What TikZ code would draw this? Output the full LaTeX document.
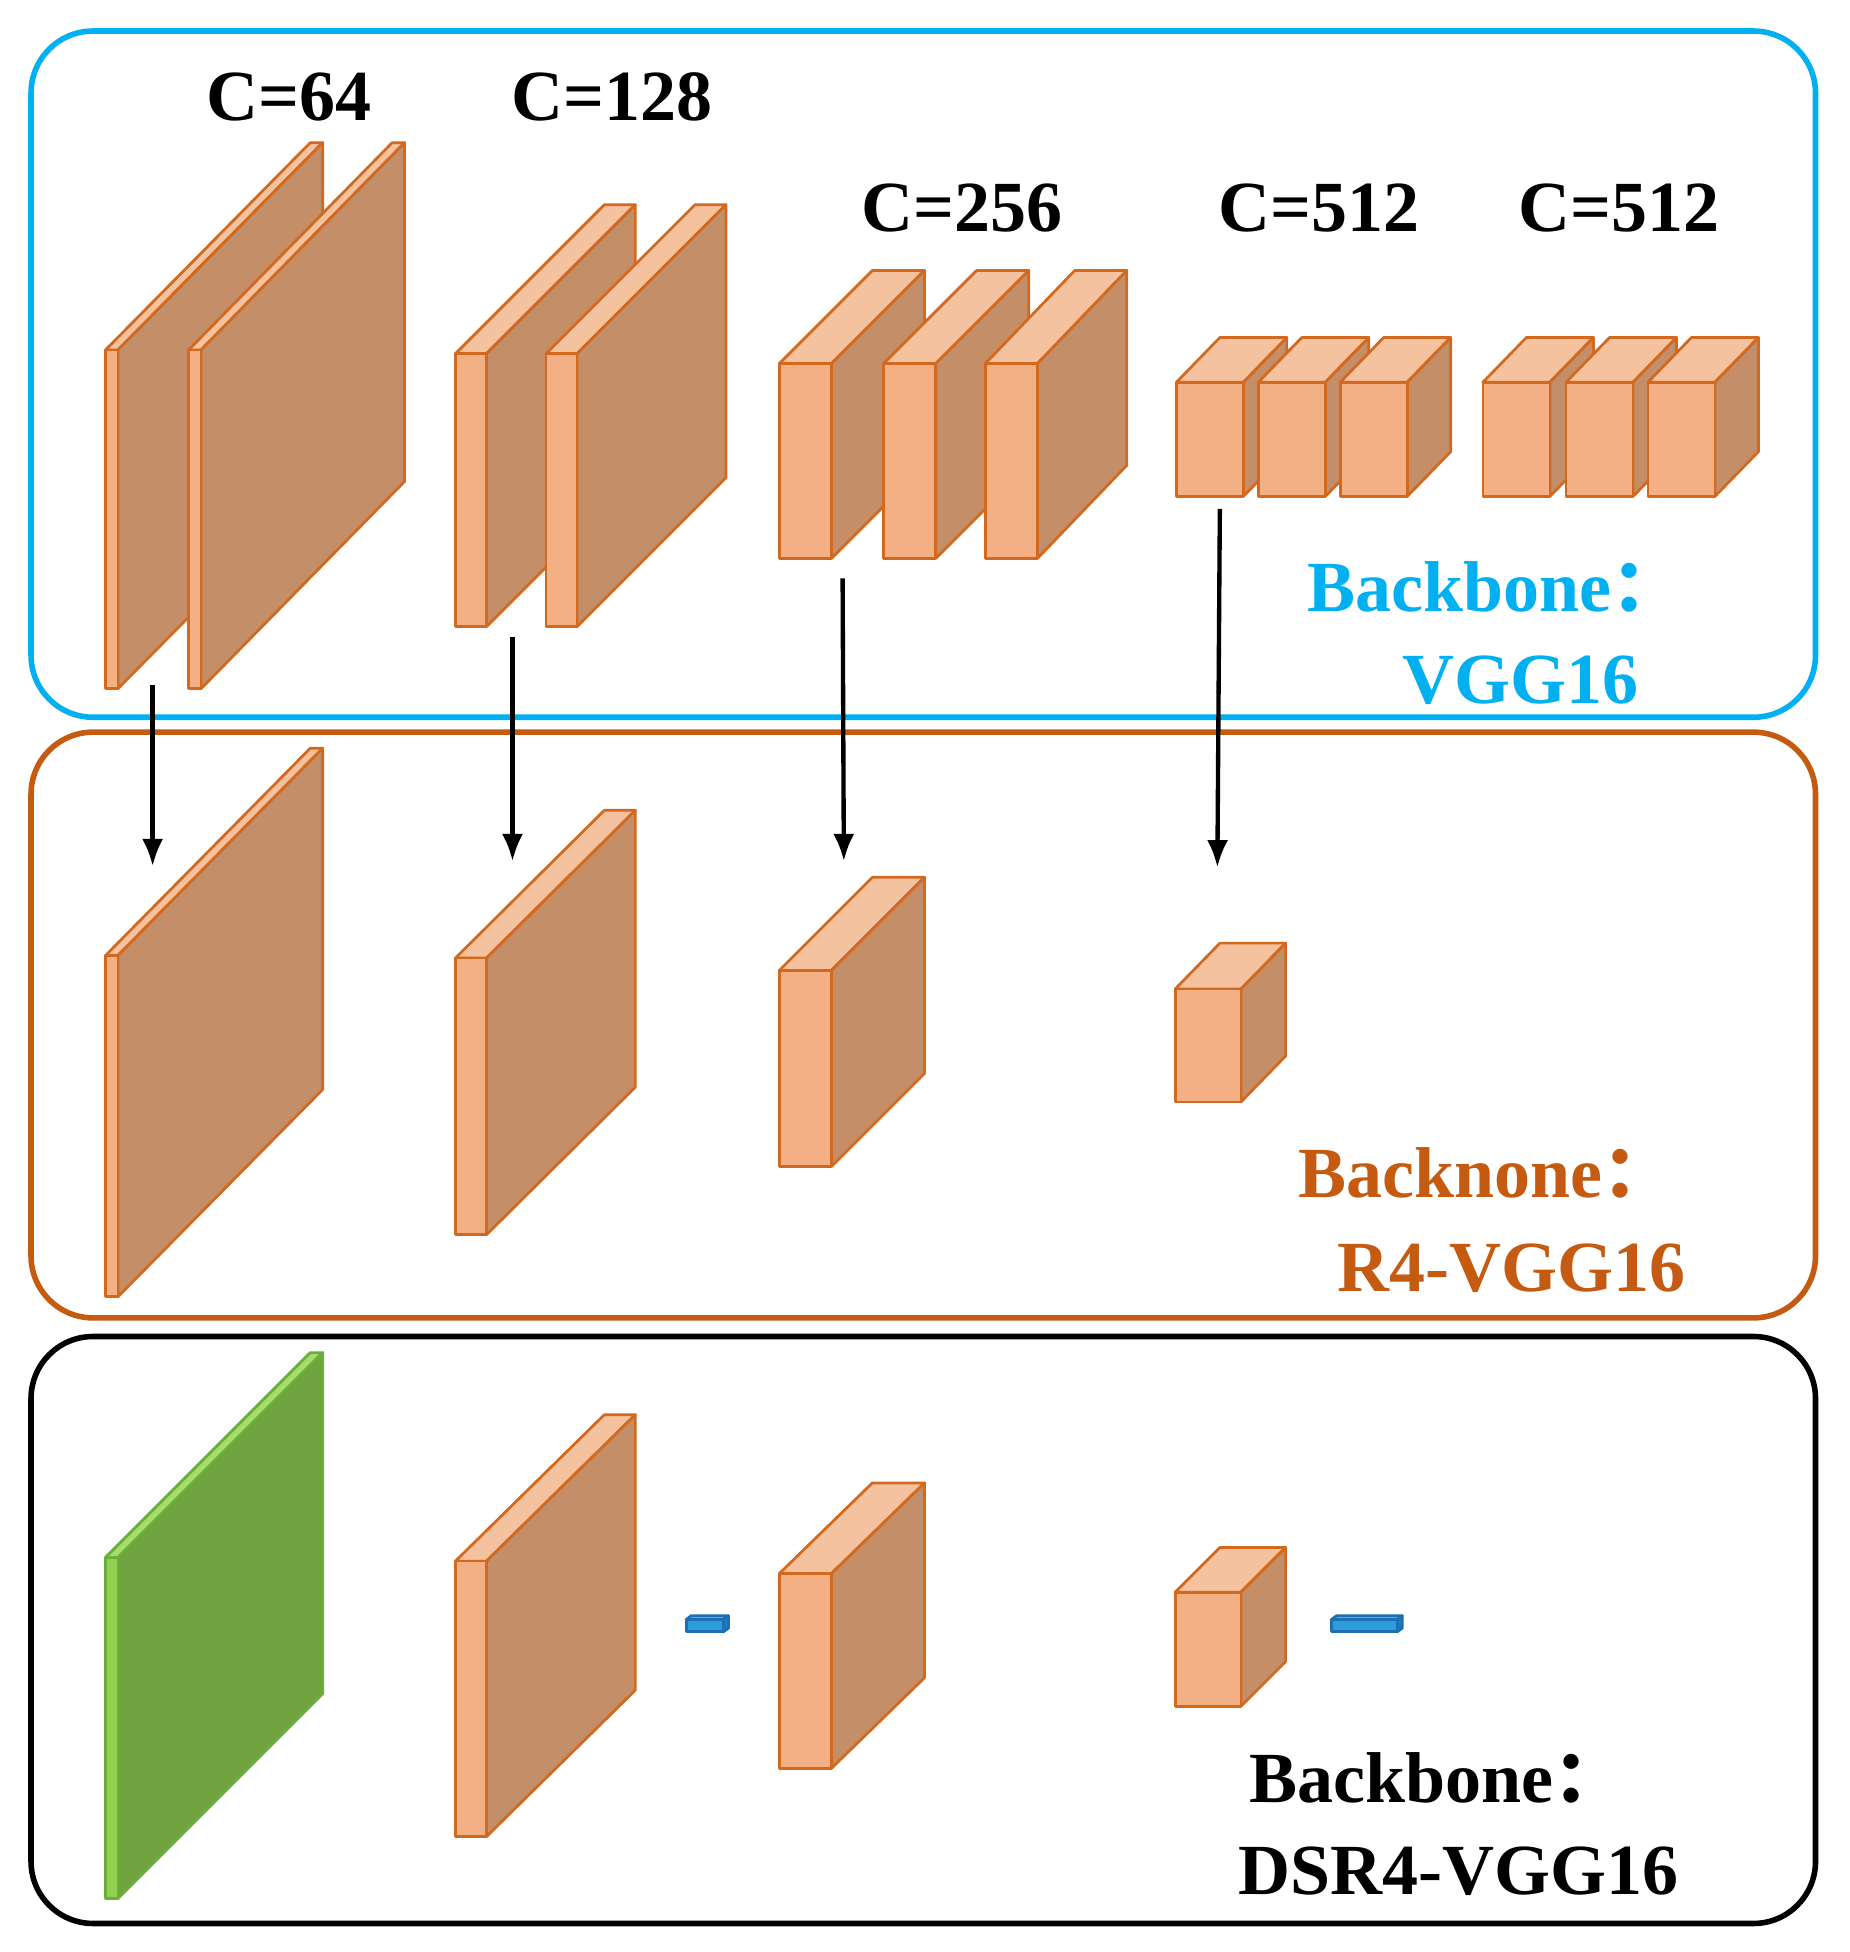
\documentclass[tikz,border=0pt]{standalone}
\usepackage{fontspec}
\setmainfont{Liberation Serif}
\newfontfamily\cjk{Noto Sans CJK SC}
\usetikzlibrary{arrows.meta}
\begin{document}
\definecolor{fr}{HTML}{F2B084}
\definecolor{sd}{HTML}{C48E68}
\definecolor{tp}{HTML}{F5C2A0}
\definecolor{ed}{HTML}{D2691E}
\definecolor{gfr}{HTML}{92D050}
\definecolor{gsd}{HTML}{70A33F}
\definecolor{gtp}{HTML}{A9DC70}
\definecolor{ged}{HTML}{6BAE3A}
\definecolor{bl}{HTML}{00B0F0}
\definecolor{orb}{HTML}{C55A11}
\definecolor{bfr}{HTML}{2E9BDB}
\definecolor{bsd}{HTML}{1F7CC0}
\definecolor{btp}{HTML}{5BB8EE}
\definecolor{bed}{HTML}{1A70B0}
\begin{tikzpicture}[x=1pt,y=-1pt,
  lbl/.style={font=\fontsize{58}{58}\selectfont\bfseries},
  big/.style={line width=4.5pt,rounded corners=50pt},
  arr/.style={line width=3.5pt,-{Latex[length=22pt,width=17pt]}},
  face/.style={line width=2.2pt,line join=round}]
\useasboundingbox (0,0) rectangle (1490,1573);
\def\cf{fr}\def\cs{sd}\def\ct{tp}\def\ce{ed}
% cuboid: x y w h dx dy
\newcommand\cub[6]{%
 \draw[face,draw=\ce,fill=\ct] (#1,#2) -- ++(#5,-#6) -- ++(#3,0) -- ++(-#5,#6) -- cycle;
 \draw[face,draw=\ce,fill=\cs] (#1+#3,#2) -- ++(#5,-#6) -- ++(0,#4) -- ++(-#5,#6) -- cycle;
 \draw[face,draw=\ce,fill=\cf] (#1,#2) rectangle ++(#3,#4);}
% frames
\draw[big,bl] (25,25) rectangle (1463,578);
\draw[big,orb] (25,590) rectangle (1463,1062);
\draw[big,black] (25,1077) rectangle (1463,1550);
% row 1
\cub{85}{282}{10}{273}{165}{167}
\cub{152}{282}{10}{273}{164}{167}
\cub{367}{285}{25}{220}{120}{120}
\cub{440}{285}{25}{220}{120}{120}
\cub{628}{293}{42}{157}{75}{75}
\cub{712}{293}{42}{157}{75}{75}
\cub{794}{293}{42}{157}{72}{75}
\cub{948}{308}{54}{92}{35}{36}
\cub{1014}{308}{54}{92}{35}{36}
\cub{1080}{308}{54}{92}{35}{36}
\cub{1195}{308}{54}{92}{35}{36}
\cub{1262}{308}{54}{92}{35}{36}
\cub{1328}{308}{54}{92}{35}{36}
\node[lbl] (c64) at (233,78) {C=64};
\node[lbl] (c128) at (493,78) {C=128};
\node[lbl] (c256) at (775,168) {C=256};
\node[lbl] (c512a) at (1063,168) {C=512};
\node[lbl] (c512b) at (1305,168) {C=512};
\node[lbl,text=bl] (t1) at (1205,473) {Backbone{\cjk ：}};
\node[lbl,text=bl] (t1b) at (1225,548) {VGG16};
% row 2
\cub{85}{770}{10}{275}{165}{167}
\cub{367}{772}{25}{223}{120}{119}
\cub{628}{782}{42}{158}{75}{75}
\cub{947}{797}{53}{91}{36}{37}
\node[lbl,text=orb] (t2) at (1198,945) {Backnone{\cjk ：}};
\node[lbl,text=orb] (t2b) at (1218,1022) {R4-VGG16};
% arrows
\coordinate (a1s) at (123,552); \coordinate (a1e) at (123,698);
\coordinate (a2s) at (413,513); \coordinate (a2e) at (413,694);
\coordinate (a3s) at (679,466); \coordinate (a3e) at (680,694);
\coordinate (a4s) at (983,410); \coordinate (a4e) at (981,699);
\draw[arr] (a1s) -- (a1e);
\draw[arr] (a2s) -- (a2e);
\draw[arr] (a3s) -- (a3e);
\draw[arr] (a4s) -- (a4e);
% row 3
{\def\cf{gfr}\def\cs{gsd}\def\ct{gtp}\def\ce{ged}
\cub{85}{1255}{10}{275}{165}{165}}
\cub{367}{1258}{25}{222}{120}{118}
\cub{628}{1268}{42}{157}{75}{73}
\cub{947}{1283}{53}{92}{36}{36}
{\def\cf{bfr}\def\cs{bsd}\def\ct{btp}\def\ce{bed}
\cub{553}{1305}{30}{10}{4}{3}
\cub{1073}{1305}{53}{10}{4}{3}}
\node[lbl] (t3) at (1158,1433) {Backbone{\cjk ：}};
\node[lbl] (t3b) at (1175,1508) {DSR4-VGG16};
\end{tikzpicture}
\end{document}
